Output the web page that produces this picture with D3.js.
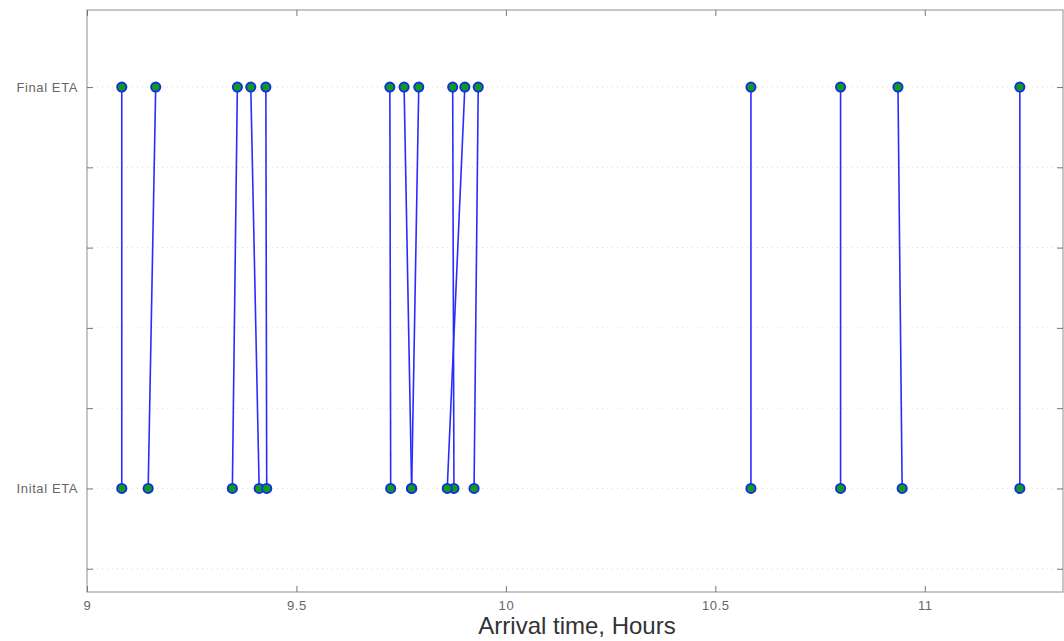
<!DOCTYPE html>
<html>
<head>
<meta charset="utf-8">
<script src="https://cdn.jsdelivr.net/npm/d3@7"></script>
<style>
  body { margin: 0; background: #fff; }
  svg { display: block; font-family: "Liberation Sans", Arial, sans-serif; }
</style>
</head>
<body>
<div id="chart"></div>
<script>
// arrival time in hours, one entry per aircraft: initial estimate and final estimate
const initialEta = [9.083, 9.146, 9.347, 9.411, 9.429, 9.725, 9.775, 9.775, 9.876, 9.860, 9.924, 10.585, 10.799, 10.946, 11.227];
const finalEta   = [9.083, 9.164, 9.359, 9.391, 9.427, 9.723, 9.757, 9.792, 9.873, 9.902, 9.934, 10.585, 10.799, 10.936, 11.227];

const xTicks = [9, 9.5, 10, 10.5, 11];
const xTickLabels = ["9", "9.5", "10", "10.5", "11"];
const yTicks = [0, 1, 2, 3, 4, 5, 6];
const yTickLabels = ["", "Inital ETA", "", "", "", "", "Final ETA"];
const initialLevel = 1, finalLevel = 6;

const width = 1064, height = 641;
const plotLeft = 87, plotRight = 1063, plotTop = 10, plotBottom = 592;

const svg = d3.select("#chart")
    .append("svg")
    .attr("width", width)
    .attr("height", height);

const x = d3.scaleLinear().domain([9, 11.33]).range([plotLeft, plotRight]);
const y = d3.scaleLinear().domain([-0.29, 6.96]).range([plotBottom, plotTop]);

// faint dotted grid
svg.append("g")
    .selectAll("line")
    .data(yTicks)
    .enter()
    .append("line")
    .attr("x1", plotLeft)
    .attr("x2", plotRight)
    .attr("y1", d => y(d))
    .attr("y2", d => y(d))
    .attr("stroke", "#deded0")
    .attr("stroke-dasharray", "1,4");

// box
svg.append("rect")
    .attr("x", plotLeft)
    .attr("y", plotTop)
    .attr("width", plotRight - plotLeft)
    .attr("height", plotBottom - plotTop)
    .attr("fill", "none")
    .attr("stroke", "#a0a0a0")
    .attr("stroke-width", 1.2);

// axes, ticks pointing inward
const xAxis = svg.append("g")
    .attr("transform", `translate(0, ${plotBottom})`)
    .call(d3.axisBottom(x).tickValues(xTicks).tickSize(-6).tickPadding(9)
        .tickFormat((d, i) => xTickLabels[i]));

const xAxisTop = svg.append("g")
    .attr("transform", `translate(0, ${plotTop})`)
    .call(d3.axisTop(x).tickValues(xTicks).tickSize(-6).tickFormat(""));

const yAxis = svg.append("g")
    .attr("transform", `translate(${plotLeft}, 0)`)
    .call(d3.axisLeft(y).tickValues(yTicks).tickSize(-6).tickPadding(9)
        .tickFormat((d, i) => yTickLabels[i]));

const yAxisRight = svg.append("g")
    .attr("transform", `translate(${plotRight}, 0)`)
    .call(d3.axisRight(y).tickValues(yTicks).tickSize(-6).tickFormat(""));

[xAxis, xAxisTop, yAxis, yAxisRight].forEach(g => {
    g.select(".domain").remove();
    g.selectAll(".tick line").attr("stroke", "#777");
    g.selectAll(".tick text")
        .attr("fill", "#666")
        .style("font-size", "13px")
        .style("letter-spacing", "0.6px");
});

svg.append("text")
    .attr("x", 577)
    .attr("y", 634)
    .attr("text-anchor", "middle")
    .attr("fill", "#333")
    .style("font-size", "24px")
    .text("Arrival time, Hours");

const pairs = initialEta.map((d, i) => ({ start: d, end: finalEta[i] }));

svg.append("g")
    .selectAll("line")
    .data(pairs)
    .enter()
    .append("line")
    .attr("x1", d => x(d.start))
    .attr("y1", y(initialLevel))
    .attr("x2", d => x(d.end))
    .attr("y2", y(finalLevel))
    .attr("stroke", "#2b2bff")
    .attr("stroke-width", 1.6);

const points = pairs.flatMap(d => [
    { t: d.start, level: initialLevel },
    { t: d.end, level: finalLevel }
]);

svg.append("g")
    .selectAll("circle")
    .data(points)
    .enter()
    .append("circle")
    .attr("cx", d => x(d.t))
    .attr("cy", d => y(d.level))
    .attr("r", 4.6)
    .attr("fill", "#109a20")
    .attr("stroke", "#1030e0")
    .attr("stroke-width", 1.9);
</script>
</body>
</html>
